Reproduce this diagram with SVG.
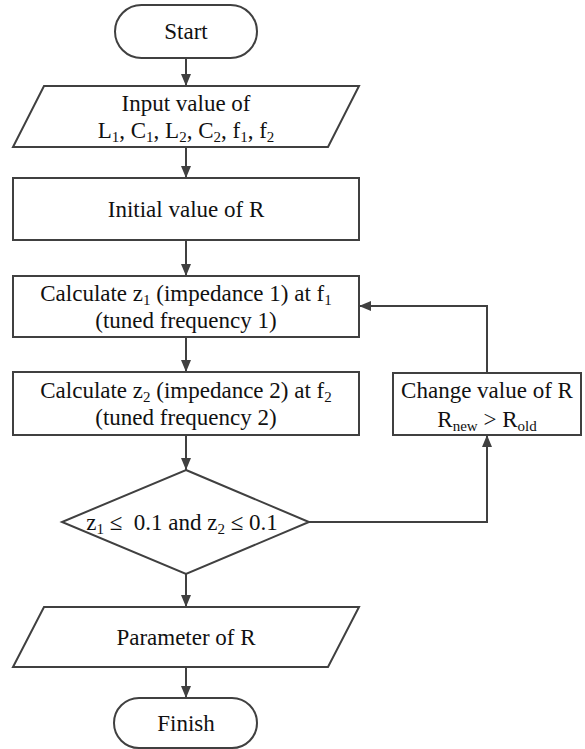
<svg xmlns="http://www.w3.org/2000/svg" width="585" height="749" viewBox="0 0 585 749">
<style>
.shape{fill:#fff;stroke:#404040;stroke-width:2}
.conn{fill:none;stroke:#404040;stroke-width:2}
text{font-family:'Liberation Serif','Times New Roman',Times,'DejaVu Serif',serif;font-size:23px;fill:#111;text-anchor:middle}
.sub{font-size:15px}
</style>
<defs>
<marker id="ah" viewBox="0 0 12 10" refX="12" refY="5" markerWidth="12" markerHeight="10" orient="auto" markerUnits="userSpaceOnUse">
<path d="M0,0 L12,5 L0,10 z" fill="#404040"/>
</marker>
</defs>
<rect width="585" height="749" fill="#fff"/>
<g id="connectors">
<line class="conn" x1="186" y1="58" x2="186" y2="86" marker-end="url(#ah)"/>
<line class="conn" x1="186" y1="147" x2="186" y2="178" marker-end="url(#ah)"/>
<line class="conn" x1="186" y1="240" x2="186" y2="276" marker-end="url(#ah)"/>
<line class="conn" x1="186" y1="337" x2="186" y2="372" marker-end="url(#ah)"/>
<line class="conn" x1="186" y1="435" x2="186" y2="470" marker-end="url(#ah)"/>
<line class="conn" x1="186" y1="574" x2="186" y2="607" marker-end="url(#ah)"/>
<line class="conn" x1="186" y1="667" x2="186" y2="698" marker-end="url(#ah)"/>
<polyline class="conn" points="309,522 487,522 487,435" marker-end="url(#ah)"/>
<polyline class="conn" points="487,373 487,306 359,306" marker-end="url(#ah)"/>
</g>
<g id="start">
<rect class="shape" x="115" y="5" width="142" height="53" rx="26.5"/>
<text x="186" y="39">Start</text>
</g>
<g id="input">
<polygon class="shape" points="44,86 359,86 328,147 13,147"/>
<text x="186" y="111">Input value of</text>
<text x="186" y="138">L<tspan class="sub" dy="4">1</tspan><tspan dy="-4">, C</tspan><tspan class="sub" dy="4">1</tspan><tspan dy="-4">, L</tspan><tspan class="sub" dy="4">2</tspan><tspan dy="-4">, C</tspan><tspan class="sub" dy="4">2</tspan><tspan dy="-4">, f</tspan><tspan class="sub" dy="4">1</tspan><tspan dy="-4">, f</tspan><tspan class="sub" dy="4">2</tspan></text>
</g>
<g id="initial">
<rect class="shape" x="13" y="178" width="346" height="62"/>
<text x="186" y="217">Initial value of R</text>
</g>
<g id="calc1">
<rect class="shape" x="13" y="276" width="346" height="61"/>
<text x="186" y="301">Calculate z<tspan class="sub" dy="4">1</tspan><tspan dy="-4"> (impedance 1) at f</tspan><tspan class="sub" dy="4">1</tspan></text>
<text x="186" y="328">(tuned frequency 1)</text>
</g>
<g id="calc2">
<rect class="shape" x="13" y="372" width="346" height="63"/>
<text x="186" y="398">Calculate z<tspan class="sub" dy="4">2</tspan><tspan dy="-4"> (impedance 2) at f</tspan><tspan class="sub" dy="4">2</tspan></text>
<text x="186" y="425">(tuned frequency 2)</text>
</g>
<g id="change">
<rect class="shape" x="393" y="373" width="188" height="62"/>
<text x="487" y="398">Change value of R</text>
<text x="487" y="427">R<tspan class="sub" dy="4">new</tspan><tspan dy="-4"> &gt; R</tspan><tspan class="sub" dy="4">old</tspan></text>
</g>
<g id="decision">
<polygon class="shape" points="186,470 309,522 186,574 62,522"/>
<text x="182" y="530" xml:space="preserve">z<tspan class="sub" dy="4">1</tspan><tspan dy="-4"> ≤  0.1 and z</tspan><tspan class="sub" dy="4">2</tspan><tspan dy="-4"> ≤ 0.1</tspan></text>
</g>
<g id="output">
<polygon class="shape" points="44,607 359,607 328,667 13,667"/>
<text x="186" y="645">Parameter of R</text>
</g>
<g id="finish">
<rect class="shape" x="114" y="698" width="143" height="50" rx="25"/>
<text x="186" y="731">Finish</text>
</g>
</svg>
